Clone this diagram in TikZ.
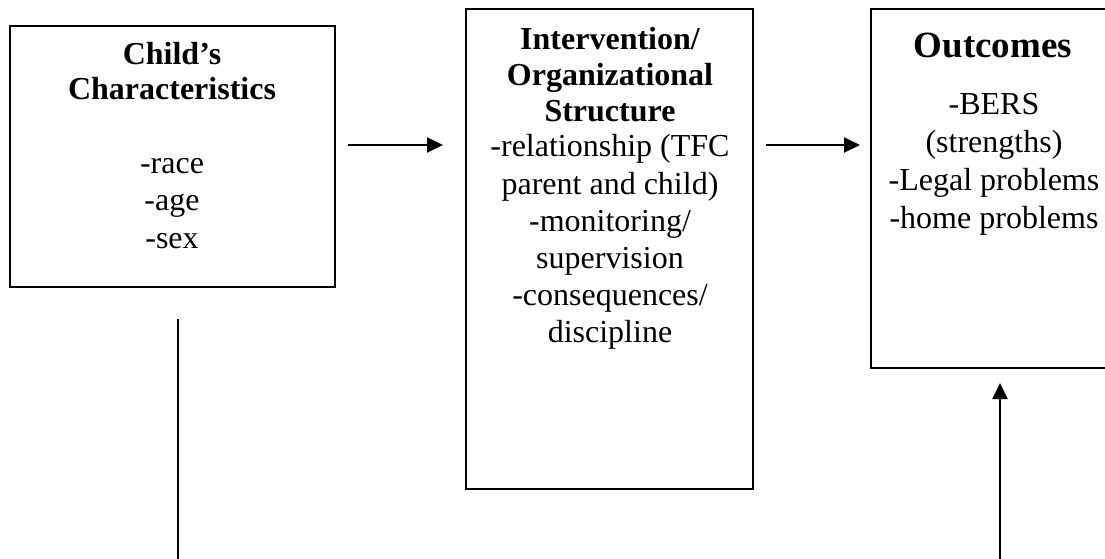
\documentclass[tikz,border=0pt]{standalone}
\usepackage{fontspec}
\setmainfont{Liberation Serif}
\usetikzlibrary{arrows.meta}
\begin{document}
\begin{tikzpicture}[x=1pt,y=-1pt,
  boxnode/.style={draw=black,line width=2pt,rectangle,inner sep=0pt,outer sep=0pt,anchor=north west},
  txt/.style={anchor=base,inner sep=0pt,font=\fontsize{32}{37}\selectfont},
  head/.style={anchor=base,inner sep=0pt,font=\fontsize{32}{37}\selectfont\bfseries},
  bighead/.style={anchor=base,inner sep=0pt,font=\fontsize{37}{43}\selectfont\bfseries},
  arr/.style={line width=2pt,-{Triangle[length=16pt,width=15pt]}},
  plain/.style={line width=2pt}]
\useasboundingbox (0,0) rectangle (1105,559);
% boxes
\node[boxnode,minimum width=325pt,minimum height=261pt] (lbox) at (10,26) {};
\node[boxnode,minimum width=287pt,minimum height=480pt] (mbox) at (466,9) {};
\node[boxnode,minimum width=260pt,minimum height=359pt] (rbox) at (871,9) {};
% left box text
\node[head] (l1) at (172,65) {Child’s};
\node[head] (l2) at (172,100) {Characteristics};
\node[txt] (l3) at (172,173) {-race};
\node[txt] (l4) at (172,210) {-age};
\node[txt] (l5) at (172,248) {-sex};
% middle box text
\node[head] (m1) at (610,50) {Intervention/};
\node[head] (m2) at (610,86) {Organizational};
\node[head] (m3) at (610,122) {Structure};
\node[txt] (m4) at (610,157) {-relationship (TFC};
\node[txt] (m5) at (610,194) {parent and child)};
\node[txt] (m6) at (610,231) {-monitoring/};
\node[txt] (m7) at (610,268) {supervision};
\node[txt] (m8) at (610,305) {-consequences/};
\node[txt] (m9) at (610,342) {discipline};
% right box text
\node[bighead] (r1) at (993,58) {Outcomes};
\node[txt] (r2) at (994,115) {-BERS};
\node[txt] (r3) at (994,152) {(strengths)};
\node[txt] (r4) at (994,190) {-Legal problems};
\node[txt] (r5) at (994,228) {-home problems};
% connectors
\coordinate (a1s) at (348,145);
\coordinate (a1e) at (443,145);
\coordinate (a2s) at (766,145);
\coordinate (a2e) at (860,145);
\coordinate (v1s) at (178,319);
\coordinate (v1e) at (178,562);
\coordinate (v2s) at (1000,562);
\coordinate (v2e) at (1000,383);
\draw[arr] (a1s) -- (a1e);
\draw[arr] (a2s) -- (a2e);
\draw[plain] (v1s) -- (v1e);
\draw[arr] (v2s) -- (v2e);
\end{tikzpicture}
\end{document}
